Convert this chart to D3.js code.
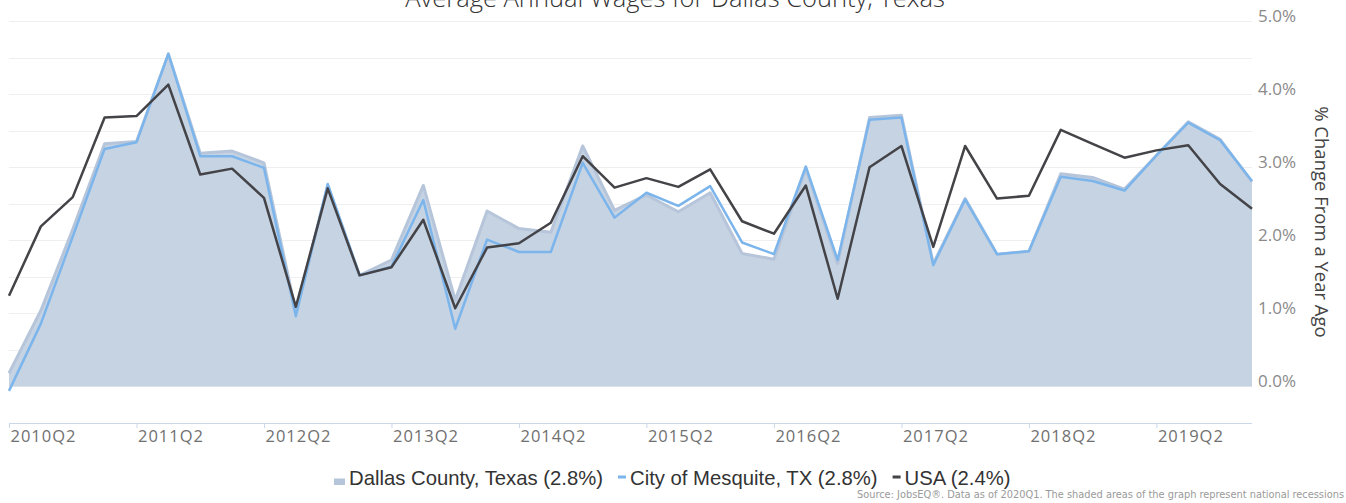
<!DOCTYPE html>
<html>
<head>
<meta charset="utf-8">
<script src="https://cdn.jsdelivr.net/npm/d3@7"></script>
<style>
  html, body { margin: 0; padding: 0; background: #fff; }
  svg { display: block; }
</style>
</head>
<body>
<svg id="chart" width="1346" height="503"></svg>
<script>
const title = "Average Annual Wages for Dallas County, Texas";
const yAxisTitle = "% Change From a Year Ago";
const sourceText = "Source: JobsEQ®. Data as of 2020Q1. The shaded areas of the graph represent national recessions";

const quarters = [
  "2010Q2","2010Q3","2010Q4","2011Q1","2011Q2","2011Q3","2011Q4","2012Q1",
  "2012Q2","2012Q3","2012Q4","2013Q1","2013Q2","2013Q3","2013Q4","2014Q1",
  "2014Q2","2014Q3","2014Q4","2015Q1","2015Q2","2015Q3","2015Q4","2016Q1",
  "2016Q2","2016Q3","2016Q4","2017Q1","2017Q2","2017Q3","2017Q4","2018Q1",
  "2018Q2","2018Q3","2018Q4","2019Q1","2019Q2","2019Q3","2019Q4","2020Q1"
];
const tickLabels = ["2010Q2","2011Q2","2012Q2","2013Q2","2014Q2","2015Q2","2016Q2","2017Q2","2018Q2","2019Q2"];

const seriesNames = ["Dallas County, Texas", "City of Mesquite, TX", "USA"];

const dallas = [0.18, 1.04, 2.15, 3.32, 3.35, 4.55, 3.19, 3.22, 3.06, 1.02,
                2.75, 1.52, 1.73, 2.75, 1.18, 2.40, 2.16, 2.11, 3.29, 2.41,
                2.62, 2.39, 2.65, 1.82, 1.74, 2.98, 1.68, 3.68, 3.71, 1.68,
                2.57, 1.81, 1.85, 2.91, 2.86, 2.70, 3.16, 3.62, 3.38, 2.80];
const mesquite = [-0.06, 0.86, 2.05, 3.25, 3.34, 4.55, 3.15, 3.15, 2.99, 0.96,
                  2.77, 1.52, 1.64, 2.55, 0.79, 2.01, 1.84, 1.84, 3.06, 2.31,
                  2.65, 2.47, 2.74, 1.97, 1.81, 3.01, 1.73, 3.65, 3.68, 1.66,
                  2.56, 1.81, 1.85, 2.87, 2.81, 2.68, 3.16, 3.61, 3.37, 2.81];
const usa = [1.24, 2.19, 2.59, 3.68, 3.70, 4.13, 2.90, 2.98, 2.58, 1.09,
             2.71, 1.52, 1.63, 2.28, 1.07, 1.90, 1.96, 2.24, 3.15, 2.72,
             2.85, 2.73, 2.97, 2.26, 2.09, 2.75, 1.20, 3.00, 3.29, 1.91,
             3.29, 2.57, 2.61, 3.51, 3.32, 3.13, 3.23, 3.30, 2.77, 2.43];

const yTicks = [0, 1, 2, 3, 4, 5];
const yGrid = [0, 0.5, 1, 1.5, 2, 2.5, 3, 3.5, 4, 4.5, 5];

const svg = d3.select("#chart");
const pLeft = 9, pRight = 1252, pTop = 21, pBottom = 423;

const x = d3.scalePoint().domain(quarters).range([pLeft, pRight]);
const y = d3.scaleLinear().domain([-0.5, 5]).range([pBottom, pTop]);

// gridlines
svg.append("g").selectAll("line").data(yGrid).join("line")
  .attr("x1", pLeft).attr("x2", pRight)
  .attr("y1", d => Math.round(y(d)) + 0.5).attr("y2", d => Math.round(y(d)) + 0.5)
  .attr("stroke", "#efefef").attr("stroke-width", 1);

// Dallas area
const area = d3.area().x((d, i) => x(quarters[i])).y0(y(0)).y1(d => y(d));
const line = d3.line().x((d, i) => x(quarters[i])).y(d => y(d));

svg.append("path").datum(dallas).attr("d", area)
  .attr("fill", "#c6d3e3");
svg.append("path").datum(dallas).attr("d", line)
  .attr("fill", "none").attr("stroke", "#b6c5d9").attr("stroke-width", 3)
  .attr("stroke-linejoin", "round");

svg.append("path").datum(mesquite).attr("d", line)
  .attr("fill", "none").attr("stroke", "#7cb5ec").attr("stroke-width", 2.5)
  .attr("stroke-linejoin", "round");

svg.append("path").datum(usa).attr("d", line)
  .attr("fill", "none").attr("stroke", "#434348").attr("stroke-width", 2.5)
  .attr("stroke-linejoin", "round");

// x axis
const xAxis = d3.axisBottom(x).tickValues(tickLabels).tickSize(5).tickSizeOuter(0);
const gx = svg.append("g").attr("transform", `translate(0,${pBottom})`).call(xAxis);
gx.select(".domain").attr("stroke", "#ccd6eb").attr("d", `M${pLeft},0.5H${pRight}`);
gx.selectAll(".tick line").attr("stroke", "#ccd6eb");
gx.selectAll(".tick text")
  .attr("text-anchor", "start").attr("x", 1).attr("y", 7).attr("dy", "0.71em")
  .attr("font-family", "'Open Sans', sans-serif").attr("font-size", 16.5)
  .attr("letter-spacing", 1).attr("fill", "#707070");

// y axis (right)
const yAxis = d3.axisRight(y).tickValues(yTicks).tickSize(0).tickFormat(d => d3.format(".1f")(d) + "%");
const gy = svg.append("g").attr("transform", `translate(${pRight},0)`).call(yAxis);
gy.select(".domain").remove();
gy.selectAll(".tick text")
  .attr("x", 6).attr("dy", "0em")
  .attr("font-family", "'Open Sans', sans-serif").attr("font-size", 17)
  .attr("fill", "#8a8a8a");

// y axis title
svg.append("text")
  .attr("transform", `translate(1315,${(pTop + pBottom) / 2}) rotate(90)`)
  .attr("text-anchor", "middle")
  .attr("font-family", "'Open Sans', sans-serif").attr("font-size", 18.5)
  .attr("fill", "#444").text(yAxisTitle);

// title
svg.append("text")
  .attr("x", 675).attr("y", 7).attr("text-anchor", "middle")
  .attr("font-family", "'Open Sans', sans-serif").attr("font-weight", 300)
  .attr("font-size", 25.5).attr("fill", "#333").text(title);

// legend
const lastVals = [dallas, mesquite, usa].map(s => s[s.length - 1]);
const legendColors = ["#b6c5d9", "#7cb5ec", "#434348"];
const lg = svg.append("g");
let cx = 334;
seriesNames.forEach((name, i) => {
  if (i === 0) {
    lg.append("rect").attr("x", cx).attr("y", 478.5).attr("width", 11).attr("height", 6.5)
      .attr("fill", legendColors[i]);
  } else {
    lg.append("rect").attr("x", cx).attr("y", 475.5).attr("width", 8).attr("height", 3)
      .attr("fill", legendColors[i]);
  }
  const tx = cx + (i === 0 ? 15 : 12);
  const t = lg.append("text").attr("x", tx).attr("y", 484.5)
    .attr("font-family", "'Liberation Sans', Arial, sans-serif").attr("font-size", 20.3)
    .attr("fill", "#333").text(`${name} (${d3.format(".1f")(lastVals[i])}%)`);
  cx = tx + t.node().getComputedTextLength() + 15;
});

// source
svg.append("text")
  .attr("x", 1344).attr("y", 498).attr("text-anchor", "end")
  .attr("font-family", "'DejaVu Sans Condensed', 'DejaVu Sans', sans-serif").attr("font-size", 10.5)
  .attr("textLength", 487).attr("lengthAdjust", "spacingAndGlyphs")
  .attr("fill", "#9a9a9a").text(sourceText);
</script>
</body>
</html>
